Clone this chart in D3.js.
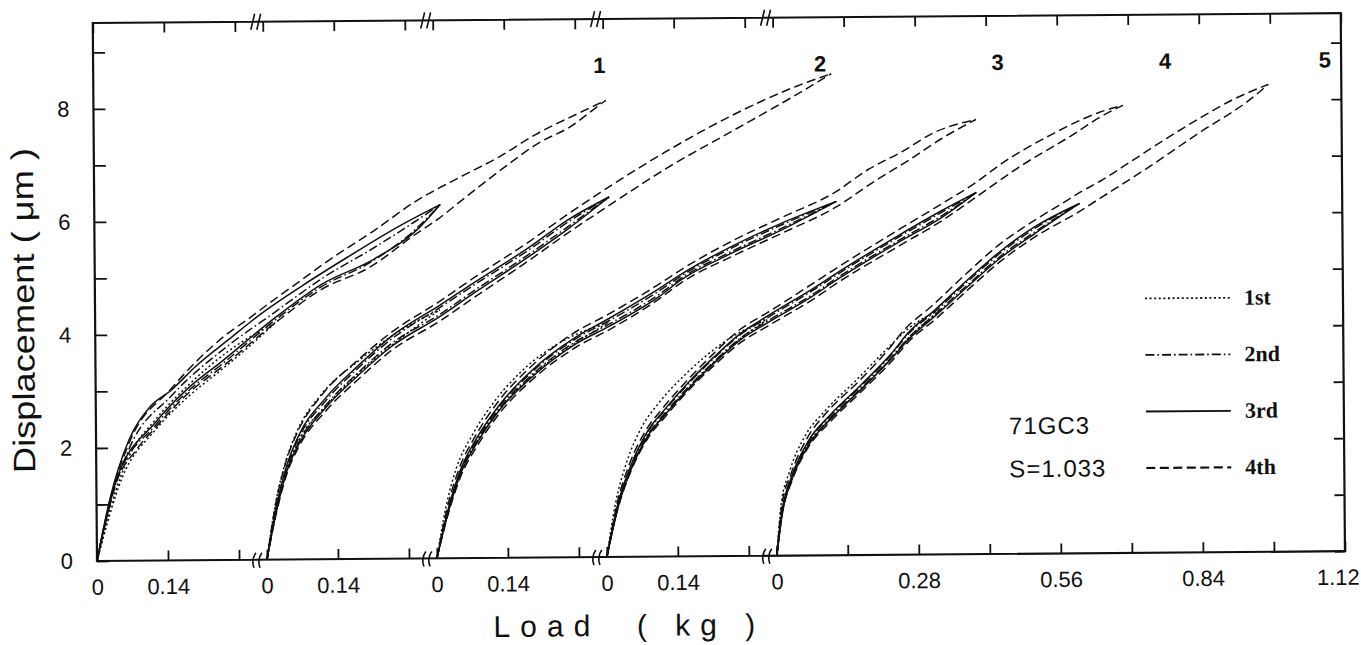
<!DOCTYPE html>
<html><head><meta charset="utf-8">
<script src="https://cdn.jsdelivr.net/npm/d3@7"></script>
<style>body{margin:0;background:#fff;} svg{display:block;}</style>
</head><body><svg id="c" width="1361" height="645"></svg>
<script>
// ---------------- DATA ----------------
const groupNames = ["1", "2", "3", "4", "5"];
const cycleNames = ["1st", "2nd", "3rd", "4th"];
const yTicks = [0, 1, 2, 3, 4, 5, 6, 7, 8, 9];
const yTickLabels = [0, 2, 4, 6, 8];
const segmentTicks = [0, 0.14, 0.28];
const lastSegmentTicks = [0, 0.14, 0.28, 0.42, 0.56, 0.70, 0.84, 0.98, 1.12];
const segmentLabels = ["0", "0.14"];
const lastSegmentLabels = ["0", "0.28", "0.56", "0.84", "1.12"];
const groupLabelLoads = [0.99, 1.09, 1.105, 1.10, 1.08];
const specimen = ["71GC3", "S=1.033"];

// each cycle: loading branch then unloading branch, [load kg, displacement µm]
const g1c1 = [[0,0],[0.03,1.02],[0.065,1.85],[0.118,2.5],[0.183,3.1],[0.26,3.68],[0.355,4.19],[0.3,3.75],[0.25,3.38],[0.183,2.9],[0.118,2.32],[0.05,1.45],[0,0]];
const g1c2 = [[0,0],[0.03,1.12],[0.065,1.98],[0.15,2.92],[0.26,3.78],[0.35,4.35],[0.45,4.98],[0.55,5.5],[0.63,5.95],[0.682,6.26],[0.63,5.8],[0.544,5.25],[0.446,4.82],[0.355,4.24],[0.25,3.47],[0.183,3.0],[0.118,2.4],[0.039,1.4],[0,0]];
const g1c3 = [[0,0],[0.026,1.08],[0.065,2.14],[0.105,2.7],[0.15,3.02],[0.2,3.45],[0.26,3.88],[0.327,4.35],[0.41,4.85],[0.5,5.35],[0.6,5.88],[0.682,6.26],[0.64,5.85],[0.55,5.3],[0.446,4.86],[0.355,4.28],[0.25,3.52],[0.183,3.05],[0.118,2.45],[0.039,1.42],[0,0]];
const g1c4 = [[0,0],[0.026,1.05],[0.065,2.08],[0.15,3.05],[0.26,4.0],[0.30,4.25],[0.35,4.58],[0.41,4.96],[0.46,5.28],[0.55,5.8],[0.63,6.3],[0.73,6.78],[0.80,7.1],[0.87,7.48],[0.95,7.83],[1.01,8.08],[0.99,7.95],[0.94,7.62],[0.88,7.35],[0.80,6.85],[0.72,6.3],[0.68,6.02],[0.63,5.72],[0.544,5.17],[0.446,4.77],[0.355,4.19],[0.25,3.42],[0.183,2.96],[0.118,2.36],[0.079,1.96],[0.039,1.38],[0.012,0.49],[0,0]];

const g2c1 = [[0,0],[0.018,1.0],[0.038,1.72],[0.062,2.28],[0.11,2.92],[0.183,3.5],[0.26,4.0],[0.345,4.4],[0.26,3.85],[0.183,3.28],[0.118,2.7],[0.065,2.1],[0.04,1.55],[0.02,0.9],[0,0]];
const g2c2 = [[0,0],[0.02,0.95],[0.04,1.62],[0.065,2.16],[0.118,2.8],[0.183,3.38],[0.248,3.88],[0.345,4.44],[0.414,4.84],[0.52,5.44],[0.6,5.94],[0.68,6.37],[0.6,5.86],[0.52,5.36],[0.414,4.74],[0.345,4.32],[0.248,3.8],[0.183,3.3],[0.118,2.72],[0.065,2.08],[0.04,1.58],[0.02,0.9],[0,0]];
const g2c3 = [[0,0],[0.02,0.97],[0.04,1.65],[0.065,2.2],[0.118,2.85],[0.183,3.42],[0.248,3.93],[0.345,4.48],[0.414,4.88],[0.52,5.48],[0.6,5.98],[0.68,6.37],[0.6,5.82],[0.52,5.32],[0.414,4.7],[0.345,4.28],[0.248,3.75],[0.183,3.25],[0.118,2.68],[0.065,2.05],[0.04,1.55],[0.02,0.88],[0,0]];
const g2c4 = [[0,0],[0.018,0.98],[0.038,1.7],[0.062,2.25],[0.11,2.9],[0.18,3.5],[0.248,4.0],[0.345,4.55],[0.414,4.97],[0.52,5.58],[0.6,6.08],[0.68,6.55],[0.79,7.15],[0.92,7.78],[1.05,8.3],[1.12,8.52],[1.05,8.15],[0.92,7.5],[0.79,6.85],[0.68,6.22],[0.6,5.75],[0.52,5.25],[0.414,4.62],[0.345,4.2],[0.248,3.68],[0.183,3.18],[0.118,2.62],[0.065,2.0],[0.04,1.5],[0.02,0.85],[0,0]];

const g3c1 = [[0,0],[0.018,0.88],[0.04,1.6],[0.07,2.15],[0.11,2.7],[0.17,3.3],[0.25,3.82],[0.343,4.15],[0.278,3.8],[0.191,3.22],[0.126,2.62],[0.081,2.05],[0.047,1.48],[0.022,0.8],[0,0]];
const g3c2 = [[0,0],[0.022,0.82],[0.047,1.52],[0.081,2.1],[0.126,2.69],[0.191,3.29],[0.278,3.87],[0.343,4.18],[0.442,4.7],[0.487,4.97],[0.586,5.45],[0.684,5.85],[0.793,6.26],[0.684,5.79],[0.586,5.39],[0.487,4.93],[0.442,4.64],[0.343,4.12],[0.278,3.82],[0.191,3.24],[0.126,2.65],[0.081,2.06],[0.047,1.49],[0.022,0.79],[0,0]];
const g3c3 = [[0,0],[0.022,0.83],[0.047,1.54],[0.081,2.13],[0.126,2.71],[0.191,3.32],[0.278,3.9],[0.343,4.22],[0.442,4.74],[0.487,5.0],[0.586,5.48],[0.684,5.88],[0.793,6.26],[0.684,5.76],[0.586,5.36],[0.487,4.9],[0.442,4.6],[0.343,4.08],[0.278,3.78],[0.191,3.2],[0.126,2.62],[0.081,2.04],[0.047,1.47],[0.022,0.78],[0,0]];
const g3c4 = [[0,0],[0.02,0.85],[0.045,1.58],[0.078,2.16],[0.122,2.75],[0.186,3.36],[0.27,3.95],[0.343,4.3],[0.442,4.82],[0.487,5.08],[0.586,5.57],[0.684,5.98],[0.79,6.42],[0.856,6.82],[0.921,7.12],[0.988,7.47],[1.069,7.69],[1.0,7.35],[0.94,7.0],[0.87,6.62],[0.79,6.15],[0.684,5.7],[0.586,5.3],[0.487,4.85],[0.442,4.56],[0.343,4.02],[0.278,3.72],[0.191,3.15],[0.126,2.56],[0.081,1.98],[0.047,1.42],[0.022,0.75],[0,0]];

const g4c1 = [[0,0],[0.018,0.95],[0.04,1.66],[0.07,2.28],[0.105,2.72],[0.16,3.24],[0.24,3.82],[0.32,4.18],[0.266,3.84],[0.215,3.44],[0.168,3.02],[0.116,2.5],[0.083,2.13],[0.049,1.55],[0.024,0.9],[0,0]];
const g4c2 = [[0,0],[0.024,0.97],[0.049,1.6],[0.083,2.21],[0.116,2.58],[0.168,3.1],[0.215,3.51],[0.266,3.91],[0.32,4.21],[0.412,4.7],[0.452,4.93],[0.582,5.63],[0.665,6.05],[0.734,6.4],[0.665,5.99],[0.582,5.57],[0.452,4.87],[0.412,4.63],[0.32,4.15],[0.266,3.85],[0.215,3.45],[0.168,3.04],[0.116,2.53],[0.083,2.16],[0.049,1.57],[0.024,0.93],[0,0]];
const g4c3 = [[0,0],[0.024,0.98],[0.049,1.62],[0.083,2.23],[0.116,2.6],[0.168,3.12],[0.215,3.53],[0.266,3.93],[0.32,4.24],[0.412,4.73],[0.452,4.96],[0.582,5.66],[0.665,6.08],[0.734,6.4],[0.665,5.96],[0.582,5.54],[0.452,4.84],[0.412,4.6],[0.32,4.12],[0.266,3.82],[0.215,3.42],[0.168,3.01],[0.116,2.5],[0.083,2.14],[0.049,1.55],[0.024,0.92],[0,0]];
const g4c4 = [[0,0],[0.022,0.98],[0.046,1.64],[0.08,2.25],[0.112,2.62],[0.165,3.15],[0.212,3.57],[0.262,3.98],[0.32,4.3],[0.412,4.82],[0.452,5.05],[0.582,5.76],[0.665,6.2],[0.734,6.58],[0.78,6.88],[0.88,7.4],[0.978,7.8],[1.024,7.92],[0.98,7.72],[0.92,7.38],[0.82,6.85],[0.734,6.32],[0.665,5.9],[0.582,5.47],[0.452,4.78],[0.412,4.54],[0.32,4.06],[0.266,3.77],[0.215,3.38],[0.168,2.98],[0.116,2.46],[0.083,2.1],[0.049,1.52],[0.024,0.9],[0,0]];

const g5c1 = [[0,0],[0.009,0.88],[0.027,1.5],[0.058,2.12],[0.098,2.56],[0.16,3.1],[0.22,3.64],[0.26,3.98],[0.33,4.35],[0.262,3.82],[0.229,3.48],[0.17,2.95],[0.105,2.39],[0.065,1.97],[0.032,1.38],[0.012,0.79],[0,0]];
const g5c2 = [[0,0],[0.012,0.82],[0.032,1.42],[0.065,2.02],[0.105,2.44],[0.17,3.0],[0.229,3.54],[0.262,3.9],[0.316,4.3],[0.381,4.83],[0.446,5.33],[0.513,5.75],[0.602,6.19],[0.513,5.69],[0.446,5.27],[0.381,4.77],[0.316,4.25],[0.262,3.83],[0.229,3.49],[0.17,2.96],[0.105,2.4],[0.065,1.98],[0.032,1.38],[0.012,0.79],[0,0]];
const g5c3 = [[0,0],[0.012,0.83],[0.032,1.43],[0.065,2.04],[0.105,2.46],[0.17,3.02],[0.229,3.56],[0.262,3.92],[0.316,4.33],[0.381,4.86],[0.446,5.36],[0.513,5.78],[0.602,6.19],[0.513,5.66],[0.446,5.24],[0.381,4.74],[0.316,4.22],[0.262,3.8],[0.229,3.47],[0.17,2.94],[0.105,2.38],[0.065,1.96],[0.032,1.37],[0.012,0.78],[0,0]];
const g5c4 = [[0,0],[0.01,0.85],[0.03,1.46],[0.062,2.08],[0.1,2.52],[0.165,3.08],[0.222,3.62],[0.255,3.98],[0.31,4.4],[0.375,4.94],[0.44,5.45],[0.51,5.88],[0.56,6.15],[0.602,6.38],[0.643,6.58],[0.71,6.96],[0.775,7.33],[0.84,7.68],[0.907,8.01],[0.976,8.27],[0.939,8.0],[0.84,7.43],[0.742,6.84],[0.643,6.28],[0.602,6.05],[0.513,5.6],[0.446,5.18],[0.381,4.68],[0.316,4.16],[0.262,3.76],[0.229,3.42],[0.17,2.9],[0.105,2.34],[0.065,1.93],[0.032,1.34],[0.012,0.76],[0,0]];

const groupCycles = [
  [g1c1, g1c2, g1c3, g1c4],
  [g2c1, g2c2, g2c3, g2c4],
  [g3c1, g3c2, g3c3, g3c4],
  [g4c1, g4c2, g4c3, g4c4],
  [g5c1, g5c2, g5c3, g5c4]
];

// ---------------- LAYOUT ----------------
const L = 97, R = 1345, T = 23, B = 561;
const segSpan = 0.335;                    // shown load range + break gap of one broken segment
const origins = groupNames.map((_, i) => i * segSpan);
const totalLoad = origins[4] + 1.12;
const x = d3.scaleLinear().domain([0, totalLoad]).range([L, R]);
const y = d3.scaleLinear().domain([0, 9.52]).range([B, T]);
const dashes = ["2,2.6", "9,3,1.6,3", null, "9,4.5"];
const FONT = "'Liberation Sans', Arial, sans-serif";

const svg = d3.select("#c");
const g = svg.append("g").attr("transform", `rotate(-0.45 ${L} ${B})`);

// curves: split each loop at its peak load, draw both branches smoothly
const line = d3.line().x(d => d[0]).y(d => d[1]).curve(d3.curveMonotoneX);
groupCycles.forEach((cyc, gi) => {
  cyc.forEach((pts, ci) => {
    const px = pts.map(p => [x(origins[gi] + p[0]), y(p[1])]);
    const imax = d3.maxIndex(pts, p => p[0]);
    const up = px.slice(0, imax + 1);
    const down = px.slice(imax).reverse();
    [up, down].forEach(br => {
      g.append("path")
        .attr("d", line(br))
        .attr("fill", "none").attr("stroke", "#111")
        .attr("stroke-width", 1.5)
        .attr("stroke-dasharray", dashes[ci]);
    });
  });
});

// tick values along broken x axis
const tickVals = [], tickLab = new Map();
groupNames.forEach((_, gi) => {
  const ticks = gi === 4 ? lastSegmentTicks : segmentTicks;
  const labs = gi === 4 ? lastSegmentLabels : segmentLabels;
  ticks.forEach(t => {
    const v = +(origins[gi] + t).toFixed(4);
    tickVals.push(v);
    const s = t === 0 ? "0" : t.toFixed(2);
    if (labs.includes(s)) tickLab.set(v, s);
  });
});

const axB = g.append("g").attr("transform", `translate(0,${B})`)
  .call(d3.axisBottom(x).tickValues(tickVals).tickSize(-10).tickPadding(18)
    .tickFormat(v => tickLab.get(+v.toFixed(4)) || ""));
const axT = g.append("g").attr("transform", `translate(0,${T})`)
  .call(d3.axisTop(x).tickValues(tickVals).tickSize(-10).tickFormat(""));
const axL = g.append("g").attr("transform", `translate(${L},0)`)
  .call(d3.axisLeft(y).tickValues(yTicks).tickSize(-12).tickPadding(24)
    .tickFormat(v => yTickLabels.includes(v) ? v : ""));
const axR = g.append("g").attr("transform", `translate(${R},0)`)
  .call(d3.axisRight(y).tickValues(yTicks).tickSize(-10).tickFormat(""));
[axB, axT, axL, axR].forEach(a => {
  a.select(".domain").remove();
  a.selectAll(".tick line").attr("stroke", "#111").attr("stroke-width", 1.8);
  a.selectAll("text").attr("font-family", FONT).attr("font-size", 22).attr("fill", "#111");
});
// keep the last label inside the page
axB.selectAll(".tick text").filter(function () { return this.textContent === "1.12"; })
  .attr("text-anchor", "end").attr("dx", 14);

// frame
g.append("rect").attr("x", L).attr("y", T).attr("width", R - L).attr("height", B - T)
  .attr("fill", "none").attr("stroke", "#111").attr("stroke-width", 2.2);

// axis break marks
origins.slice(1).forEach(o => {
  const bb = x(o) - 10, bt = x(o) - 7;
  [-3, 3].forEach(dx => {
    g.append("path").attr("d", `M${bb + dx + 2},${B - 7} Q${bb + dx - 3},${B} ${bb + dx},${B + 8}`)
      .attr("fill", "none").attr("stroke", "#111").attr("stroke-width", 1.6);
    g.append("path").attr("d", `M${bt + dx - 2},${T + 8} L${bt + dx + 2},${T - 8}`)
      .attr("fill", "none").attr("stroke", "#111").attr("stroke-width", 1.6);
  });
});

// group labels
groupNames.forEach((n, gi) => {
  g.append("text").attr("x", x(origins[gi] + groupLabelLoads[gi]) + 4).attr("y", y(8.7))
    .attr("dy", "0.35em").attr("text-anchor", "middle")
    .attr("font-family", FONT).attr("font-weight", "bold").attr("font-size", 22).attr("fill", "#111")
    .text(n);
});

// legend
cycleNames.forEach((c, i) => {
  const ly = y(4.5 - i);
  g.append("line").attr("x1", 1147).attr("x2", 1232).attr("y1", ly).attr("y2", ly)
    .attr("stroke", "#111").attr("stroke-width", i === 3 ? 2.2 : 1.8)
    .attr("stroke-dasharray", dashes[i]);
  g.append("text").attr("x", 1246).attr("y", ly).attr("dy", "0.32em")
    .attr("font-family", "'Liberation Serif', serif").attr("font-weight", "bold")
    .attr("font-size", 22).attr("fill", "#111").text(c);
});

// specimen annotation
specimen.forEach((s, i) => {
  g.append("text").attr("x", 1010).attr("y", y(2.27 - 0.76 * i)).attr("dy", "0.36em")
    .attr("font-family", FONT).attr("font-size", 24).attr("letter-spacing", 1).attr("fill", "#111").text(s);
});

// axis titles
g.append("text").attr("transform", `translate(36,${310}) rotate(-90)`)
  .attr("text-anchor", "middle").attr("font-family", FONT).attr("font-size", 31)
  .attr("textLength", 325).attr("lengthAdjust", "spacingAndGlyphs").attr("fill", "#111")
  .text("Displacement ( μm )");
g.append("text").attr("x", 493).attr("y", 640).attr("font-family", FONT).attr("font-size", 30)
  .attr("letter-spacing", 10).attr("fill", "#111").attr("xml:space", "preserve")
  .style("white-space", "pre").text("Load  ( kg )");
</script></body></html>
